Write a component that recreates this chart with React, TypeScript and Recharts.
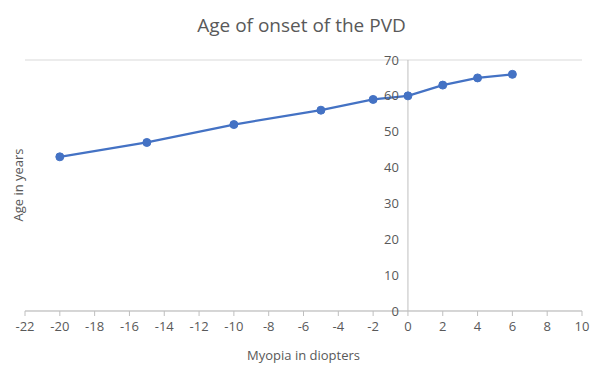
import { CartesianGrid, Line, LineChart, ReferenceDot, ReferenceLine, XAxis, YAxis } from "recharts";

const myopia = [-20, -15, -10, -5, -2, 0, 2, 4, 6];
const ageOfOnset = [43, 47, 52, 56, 59, 60, 63, 65, 66];
const xTicks = [-22, -20, -18, -16, -14, -12, -10, -8, -6, -4, -2, 0, 2, 4, 6, 8, 10];
const yTicks = [0, 10, 20, 30, 40, 50, 60, 70];

const data = myopia.map((d, i) => ({ myopia: d, age: ageOfOnset[i] }));

const font = "'Open Sans', 'Liberation Sans', sans-serif";
const textColor = "#595959";

export default function App() {
  return (
    <div style={{ position: "absolute", left: 0, top: 0, width: 603, height: 367, background: "#fff", fontFamily: font }}>
      <div
        style={{
          position: "absolute",
          top: 12,
          width: 603,
          textAlign: "center",
          fontSize: 19,
          color: textColor,
        }}
      >
        Age of onset of the PVD
      </div>
      <div
        style={{
          position: "absolute",
          left: 18,
          top: 185,
          transform: "translate(-50%, -50%) rotate(-90deg)",
          fontSize: 13,
          color: textColor,
          whiteSpace: "nowrap",
        }}
      >
        Age in years
      </div>
      <LineChart width={603} height={367} data={data} margin={{ top: 60, right: 21, left: 25, bottom: 0 }}>
        <CartesianGrid vertical={false} stroke="#d9d9d9" />
        <XAxis
          type="number"
          dataKey="myopia"
          domain={[-22, 10]}
          ticks={xTicks}
          interval={0}
          height={56}
          stroke="#bfbfbf"
          tickLine={{ stroke: "#bfbfbf" }}
          tickSize={5}
          tickMargin={6}
          tick={{ fill: textColor, fontSize: 13, fontFamily: font }}
          label={{ value: "Myopia in diopters", position: "insideBottom", offset: 7, fill: textColor, fontSize: 13, fontFamily: font }}
        />
        <YAxis type="number" domain={[0, 70]} ticks={yTicks} width={0} axisLine={false} tickLine={false} tick={false} />
        <ReferenceLine x={0} stroke="#bfbfbf" />
        {yTicks.map((t) => (
          <ReferenceDot
            key={t}
            x={0}
            y={t}
            r={0}
            stroke="none"
            fill="none"
            label={{ value: t, position: "left", offset: 9, fill: textColor, fontSize: 13, fontFamily: font }}
          />
        ))}
        <Line
          type="linear"
          dataKey="age"
          stroke="#4472C4"
          strokeWidth={2.25}
          dot={{ r: 4, fill: "#4472C4", stroke: "#4472C4", strokeWidth: 1 }}
          isAnimationActive={false}
        />
      </LineChart>
    </div>
  );
}
